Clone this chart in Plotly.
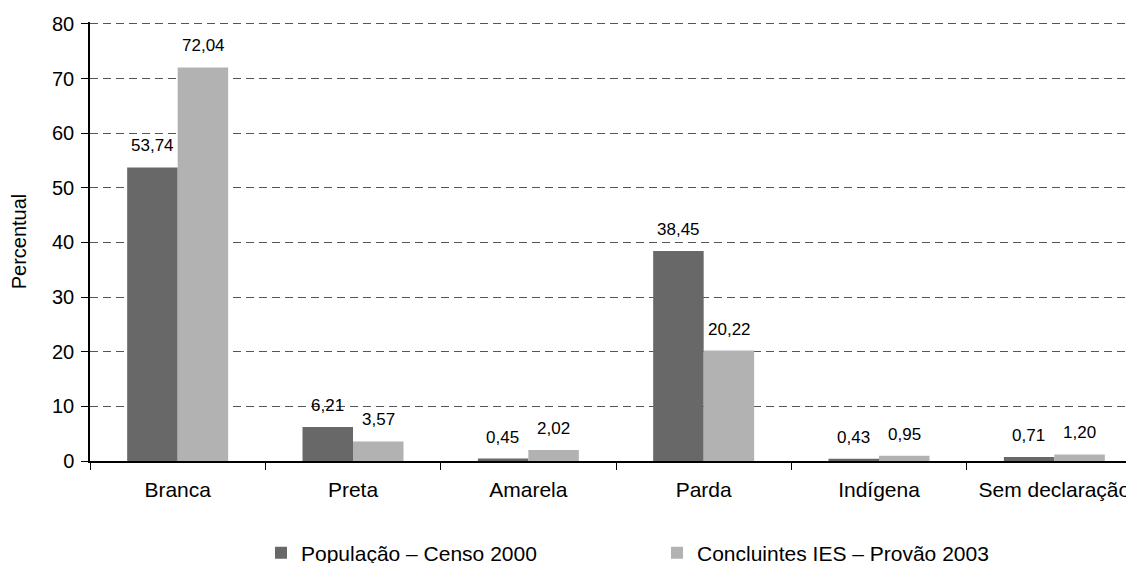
import plotly.graph_objects as go

categorias = ["Branca", "Preta", "Amarela", "Parda", "Indígena", "Sem declaração"]
populacao = [53.74, 6.21, 0.45, 38.45, 0.43, 0.71]
concluintes = [72.04, 3.57, 2.02, 20.22, 0.95, 1.20]
rotulos_pop = ["53,74", "6,21", "0,45", "38,45", "0,43", "0,71"]
rotulos_conc = ["72,04", "3,57", "2,02", "20,22", "0,95", "1,20"]
y_ticks = [0, 10, 20, 30, 40, 50, 60, 70, 80]

font = "Liberation Sans, Arial, sans-serif"

fig = go.Figure()
fig.add_trace(go.Bar(x=categorias, y=populacao, name="População – Censo 2000",
                     marker_color="#686868", marker_line_width=0))
fig.add_trace(go.Bar(x=categorias, y=concluintes, name="Concluintes IES – Provão 2003",
                     marker_color="#b2b2b2", marker_line_width=0))

for serie, rotulos, dx in ((populacao, rotulos_pop, -25.5), (concluintes, rotulos_conc, 25.5)):
    for cat, val, txt in zip(categorias, serie, rotulos):
        fig.add_annotation(x=cat, y=val, text=txt, showarrow=False, xshift=dx, yshift=10,
                           yanchor="bottom", font=dict(size=17, color="black", family=font))

fig.update_layout(
    width=1134, height=563,
    margin=dict(l=82, r=0, t=14, b=110, autoexpand=False),
    paper_bgcolor="white", plot_bgcolor="white",
    font=dict(family=font, size=21, color="black"),
    barmode="group", bargap=0.424, bargroupgap=0,
    showlegend=True,
    legend=dict(orientation="h", xref="container", yref="container", x=0.2231, xanchor="left",
                y=0.032, yanchor="middle", font=dict(size=21), entrywidth=351, itemwidth=30),
    xaxis=dict(showline=True, linecolor="black", linewidth=1.5, ticks="outside",
               tickson="boundaries", ticklen=7, tickcolor="black", range=[-0.5, 5.5],
               tickfont=dict(size=21), ticklabelstandoff=9, automargin=False),
    yaxis=dict(range=[0, 80.35], tickvals=y_ticks, showline=True, linecolor="black", linewidth=1.5,
               ticks="outside", ticklen=7, tickcolor="black", showgrid=True,
               gridcolor="#555555", griddash="8px,5px", gridwidth=1, zeroline=False,
               title=dict(text="Percentual", font=dict(size=20), standoff=22),
               tickfont=dict(size=20), ticklabelstandoff=3, automargin=False),
)

fig.write_html("out.html")
